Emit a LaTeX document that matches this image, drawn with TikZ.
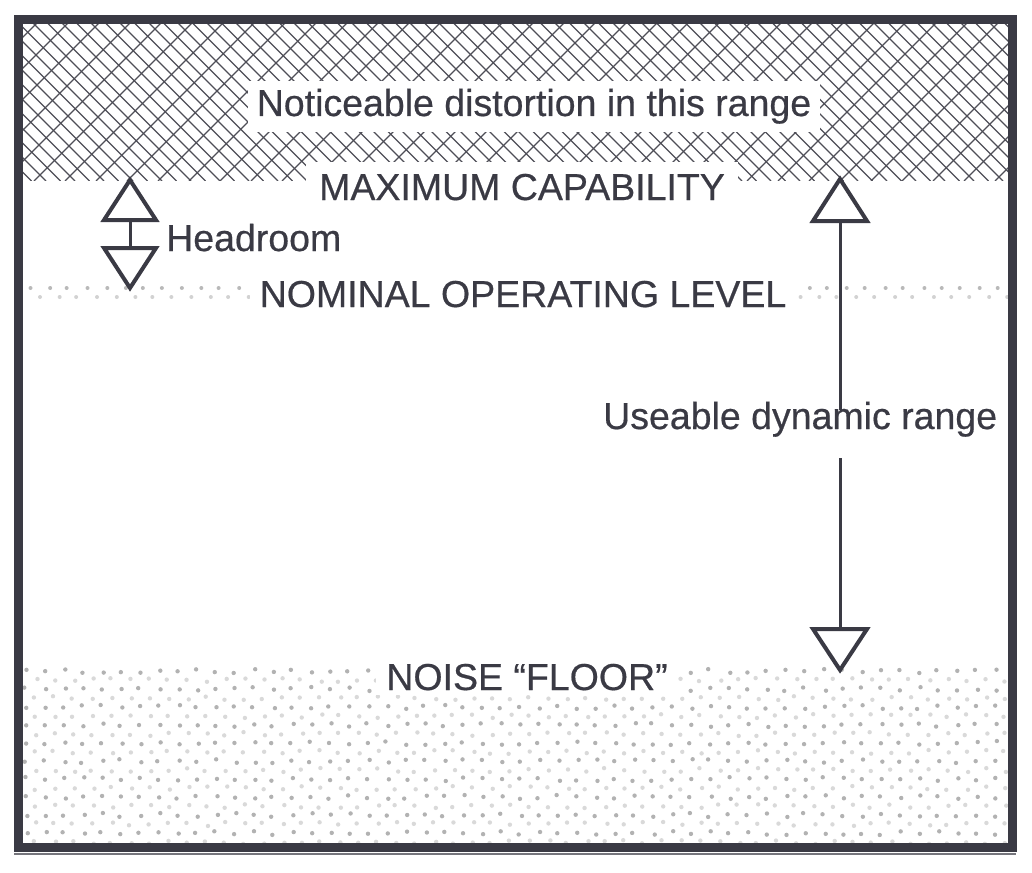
\documentclass[tikz,border=0pt]{standalone}
\usepackage{fontspec}
\setmainfont{Liberation Sans}[FakeBold=0.5]
\usetikzlibrary{positioning}

\definecolor{ink}{HTML}{3A3A44}
\tikzset{
  lbl/.style={font=\fontsize{37.5}{40}\selectfont, text=ink, fill=white},
  tri/.style={draw=ink, line width=4pt, line join=miter, fill=white},
  stem/.style={draw=ink, line width=3pt},
  hatch/.style={draw=ink!90, line width=1.2pt},
  speck/.style={fill=gray!#1},
}

\begin{document}
\begin{tikzpicture}[x=1pt,y=-1pt]
        \useasboundingbox (0,0) rectangle (1032,872);
        % Zona tratteggiata (distorsione)
        \begin{scope}
          \clip (22,23) rectangle (1008,180);
          \foreach \i in {-12,...,80} {
            \draw[hatch] (14.5*\i,19) -- ++(162,162);
          }
          \foreach \i in {0,...,40} {
            \draw[hatch] (31*\i+10,19) -- ++(-162,162);
          }
        \end{scope}
        % Rumore di fondo (puntini)
        \pgfmathsetseed{42}
        \begin{scope}
          \clip (22,664) rectangle (1008,844);
          \foreach \r in {0,...,19} {
            \pgfmathsetmacro{\shade}{mod(\r,2)==0 ? 60 : 30}
            \foreach \c in {0,...,53} {
              \pgfmathsetmacro{\px}{26+19*\c+mod(\r,2)*9.5+2*rand}
              \pgfmathsetmacro{\py}{671+9*\r+2*rand}
              \fill[speck=\shade] (\px,\py) circle[radius=2.2pt];
            }
          }
        \end{scope}
        % Livello nominale (puntini)
        \begin{scope}
          \clip (22,280) rectangle (1008,305);
          \foreach \c in {0,...,51} {
            \pgfmathsetmacro{\px}{30+19*\c+1.5*rand}
            \fill[speck=55] (\px,288) circle[radius=2pt];
            \fill[speck=35] (\px+9.5,297) circle[radius=2pt];
          }
        \end{scope}
        % Etichette
        \node[lbl, anchor=base, inner xsep=9pt, inner ysep=8pt] (dist) at (534,116) {Noticeable distortion in this range};
        \node[lbl, anchor=base, inner xsep=13pt, inner ysep=12pt] (maxcap) at (522,200) {MAXIMUM CAPABILITY};
        \node[lbl, anchor=base, inner xsep=10pt, inner ysep=3pt] (nominal) at (523,307) {NOMINAL OPERATING LEVEL};
        \node[lbl, anchor=base, inner xsep=10pt, inner ysep=5pt] (noise) at (527,690) {NOISE “FLOOR”};
        \node[lbl, anchor=base west, inner sep=0pt] (headroom) at (166,251) {Headroom};
        \node[lbl, anchor=base west, inner sep=0pt, fill=none] (dynrange) at (603,429) {Useable dynamic range};
        % Freccia headroom
        \coordinate (hrtop) at (130,180);
        \coordinate (hrtopb) at (130,220);
        \coordinate (hrbotb) at (130,248);
        \coordinate (hrbot) at (130,288);
        \draw[stem] (hrtopb) -- (hrbotb);
        \draw[tri] (hrtop) -- ++(26,40) -- ++(-52,0) -- cycle;
        \draw[tri] (hrbot) -- ++(26,-40) -- ++(-52,0) -- cycle;
        % Freccia gamma dinamica
        \coordinate (drtop) at (840,179);
        \coordinate (drtopb) at (840,221);
        \coordinate (gaptop) at (840,410);
        \coordinate (gapbot) at (840,458);
        \coordinate (drbotb) at (840,629);
        \coordinate (drbot) at (840,670);
        \draw[stem] (drtopb) -- (gaptop);
        \draw[stem] (gapbot) -- (drbotb);
        \draw[tri] (drtop) -- ++(27,42) -- ++(-54,0) -- cycle;
        \draw[tri] (drbot) -- ++(27,-41) -- ++(-54,0) -- cycle;
        % Cornice
        \draw[ink, line width=9pt] (18,19.5) rectangle (1012,847.5);
        \draw[ink!70, line width=2pt] (14,854) -- (1016,854);
\end{tikzpicture}
\end{document}
